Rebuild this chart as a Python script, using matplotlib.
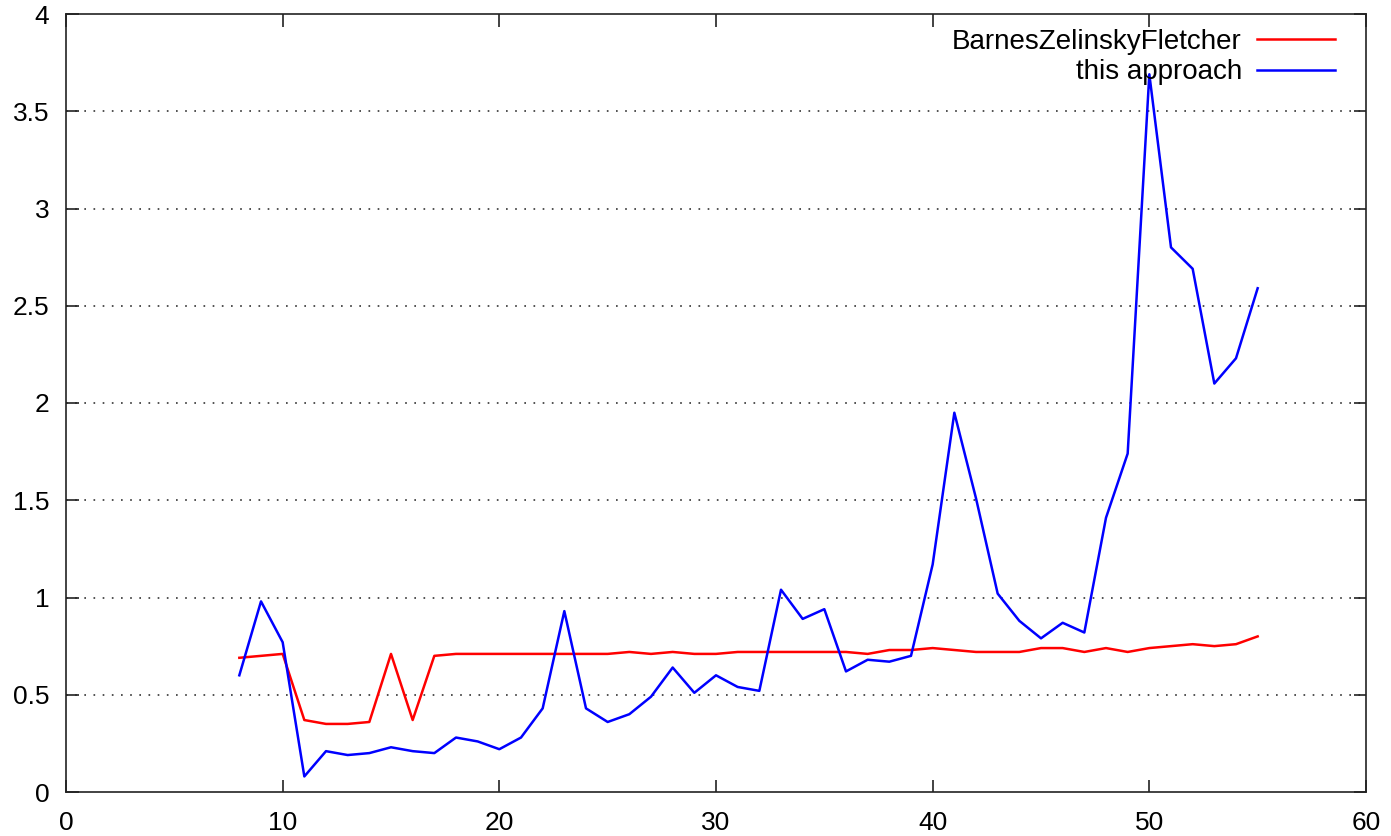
import matplotlib
matplotlib.use('Agg')
import matplotlib.pyplot as plt
from matplotlib.ticker import FormatStrFormatter, MultipleLocator
import numpy as np

plt.rcParams['font.family'] = ['Liberation Sans', 'DejaVu Sans']

x_values = list(range(8, 56))

bzf_values = [0.69, 0.70, 0.71, 0.37, 0.35, 0.35, 0.36, 0.71, 0.37, 0.70,
              0.71, 0.71, 0.71, 0.71, 0.71, 0.71, 0.71, 0.71, 0.72, 0.71,
              0.72, 0.71, 0.71, 0.72, 0.72, 0.72, 0.72, 0.72, 0.72, 0.71,
              0.73, 0.73, 0.74, 0.73, 0.72, 0.72, 0.72, 0.74, 0.74, 0.72,
              0.74, 0.72, 0.74, 0.75, 0.76, 0.75, 0.76, 0.80]

approach_values = [0.60, 0.98, 0.77, 0.08, 0.21, 0.19, 0.20, 0.23, 0.21, 0.20,
                   0.28, 0.26, 0.22, 0.28, 0.43, 0.93, 0.43, 0.36, 0.40, 0.49,
                   0.64, 0.51, 0.60, 0.54, 0.52, 1.04, 0.89, 0.94, 0.62, 0.68,
                   0.67, 0.70, 1.17, 1.95, 1.51, 1.02, 0.88, 0.79, 0.87, 0.82,
                   1.41, 1.74, 3.69, 2.80, 2.69, 2.10, 2.23, 2.59]

series_labels = ['BarnesZelinskyFletcher', 'this approach']

fig = plt.figure(figsize=(13.91, 8.36), dpi=100)
ax = fig.add_axes([66 / 1391, 44 / 836, 1300 / 1391, 778 / 836])

ax.plot(x_values, bzf_values, color='#ff0000', lw=1.8, label=series_labels[0])
ax.plot(x_values, approach_values, color='#0000ff', lw=1.8, label=series_labels[1])

ax.set_xlim(0, 60)
ax.set_ylim(0, 4)
ax.xaxis.set_major_locator(MultipleLocator(10))
ax.yaxis.set_major_locator(MultipleLocator(0.5))
ax.xaxis.set_major_formatter(FormatStrFormatter('%g'))
ax.yaxis.set_major_formatter(FormatStrFormatter('%g'))

# horizontal dotted grid, skipping the borders
for y in np.arange(0.5, 4.0, 0.5):
    ax.axhline(y, color='#333333', lw=1.2, ls=(0, (1, 4.5)), zorder=0)

ax.tick_params(direction='in', length=9, width=1.2, top=True, right=True,
               labelsize=19, colors='#222222', labelcolor='black')
ax.tick_params(axis='x', pad=14)
ax.tick_params(axis='y', pad=12)
for s in ax.spines.values():
    s.set_linewidth(1.2)
    s.set_color('#222222')

leg = ax.legend(loc='upper right', bbox_to_anchor=(1 - 31 / 1300, 1 - 15 / 778),
                markerfirst=False, frameon=False, fontsize=20, borderpad=0,
                borderaxespad=0, handlelength=2.8, handletextpad=0.55,
                labelspacing=0.16)

fig.savefig('out.png', dpi=100)
